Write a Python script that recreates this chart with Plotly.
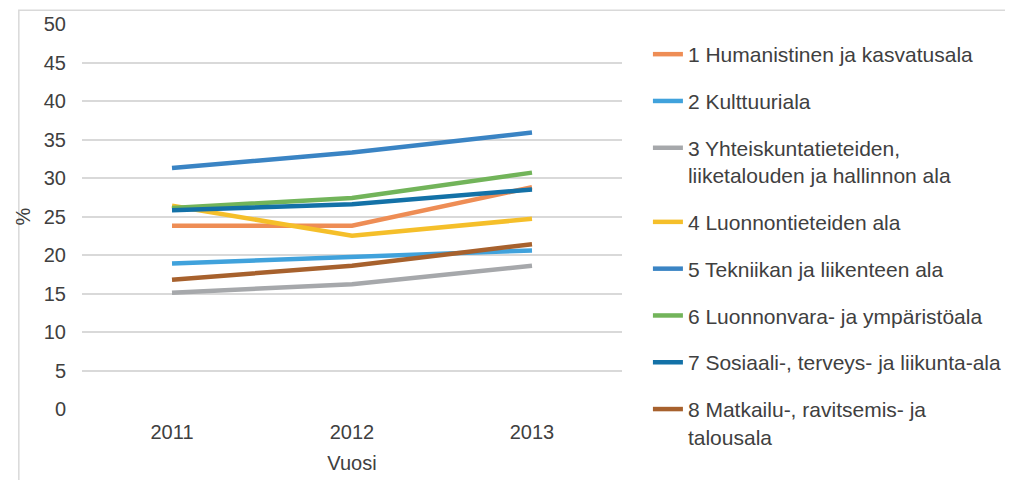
import plotly.graph_objects as go

years = ["2011", "2012", "2013"]
names = [
    "1 Humanistinen ja kasvatusala",
    "2 Kulttuuriala",
    "3 Yhteiskuntatieteiden,<br>liiketalouden ja hallinnon ala",
    "4 Luonnontieteiden ala",
    "5 Tekniikan ja liikenteen ala",
    "6 Luonnonvara- ja ympäristöala",
    "7 Sosiaali-, terveys- ja liikunta-ala",
    "8 Matkailu-, ravitsemis- ja<br>talousala",
]
humanistinen = [23.8, 23.8, 28.8]
kulttuuri = [18.9, 19.8, 20.6]
yhteiskunta = [15.1, 16.2, 18.6]
luonnontiede = [26.4, 22.5, 24.7]
tekniikka = [31.3, 33.3, 35.9]
luonnonvara = [26.1, 27.4, 30.7]
sosiaali = [25.8, 26.6, 28.5]
matkailu = [16.8, 18.6, 21.4]
series = [humanistinen, kulttuuri, yhteiskunta, luonnontiede,
          tekniikka, luonnonvara, sosiaali, matkailu]
colors = ["#EE8D55", "#40A2DC", "#A6A8AB", "#F5BF2A",
          "#3A84C4", "#72B45A", "#1371A7", "#A7612D"]

fig = go.Figure()
for n, v, c in zip(names, series, colors):
    fig.add_trace(go.Scatter(x=years, y=v, name=n, mode="lines",
                             line=dict(color=c, width=4.5), legendgroup=n))

txt = "#404040"
fig.update_layout(
    width=1005, height=472,
    margin=dict(l=74, r=391, t=16, b=71, autoexpand=False),
    paper_bgcolor="white", plot_bgcolor="white",
    font=dict(family="Liberation Sans, Arial, sans-serif", size=20, color=txt),
    xaxis=dict(type="category", range=[-0.5, 2.5], showgrid=False, zeroline=False,
               showline=False, ticks="", ticklabelstandoff=9,
               tickfont=dict(size=20, color=txt),
               title=dict(text="Vuosi", font=dict(size=20, color=txt), standoff=13)),
    yaxis=dict(range=[0, 50], dtick=5, showgrid=True, gridcolor="#D9D9D9", gridwidth=1.5,
               zeroline=False, showline=False, ticks="", ticklabelstandoff=15,
               tickfont=dict(size=20, color=txt),
               title=dict(text="%", font=dict(size=20, color=txt), standoff=7)),
    legend=dict(x=1.048, xanchor="left", y=0.974, yanchor="top", valign="top",
                tracegroupgap=16.5, font=dict(size=21, color=txt),
                bgcolor="rgba(0,0,0,0)", maxheight=480),
    showlegend=True,
    shapes=[dict(type="rect", xref="paper", yref="paper",
                 x0=-0.117, x1=1.715, y0=-0.25, y1=1.036,
                 line=dict(color="#D9D9D9", width=1.5), fillcolor="rgba(0,0,0,0)",
                 layer="below")],
)

fig.write_html("out.html")
